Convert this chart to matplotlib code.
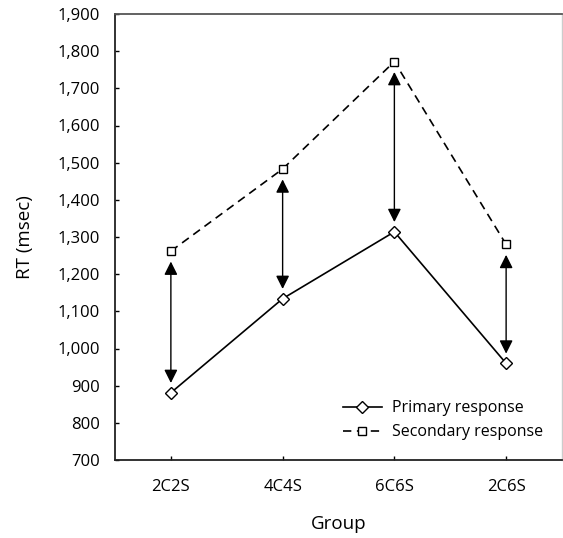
import matplotlib
matplotlib.use("Agg")
import matplotlib.pyplot as plt
from matplotlib.ticker import FuncFormatter

groups = ["2C2S", "4C4S", "6C6S", "2C6S"]
primary = [881, 1134, 1314, 960]
secondary = [1262, 1483, 1772, 1280]
yticks = list(range(700, 2000, 100))

plt.rcParams['font.family'] = ['Open Sans', 'DejaVu Sans']
plt.rcParams['lines.scale_dashes'] = False

fig = plt.figure(figsize=(5.63, 5.38), dpi=100)
ax = fig.add_axes([115/563, 1 - 460/538, (562 - 115)/563, (460 - 14)/538])

x = list(range(len(groups)))
ax.plot(x, primary, color='black', lw=1.2, marker='D', ms=6.5,
        mfc='white', mec='black', mew=1.0, label='Primary response', zorder=4)
ax.plot(x, secondary, color='black', lw=1.2, ls=(0, (6, 4)), marker='s', ms=5.5,
        mfc='white', mec='black', mew=1.0, label='Secondary response', zorder=4)

for xi, p, s in zip(x, primary, secondary):
    ax.annotate('', xy=(xi, p), xytext=(xi, s),
                arrowprops=dict(arrowstyle='<|-|>,head_length=0.8,head_width=0.4',
                                color='black', lw=1.0, shrinkA=7.5, shrinkB=7,
                                mutation_scale=10), zorder=3)

ax.set_xlim(-0.5, 3.5)
ax.set_ylim(700, 1900)
ax.set_xticks(x)
ax.set_xticklabels(groups)
ax.set_yticks(yticks)
ax.yaxis.set_major_formatter(FuncFormatter(lambda v, p: f"{int(v):,}"))
ax.tick_params(axis='both', direction='in', length=3, width=1, labelsize=12, colors='black')
ax.tick_params(axis='y', pad=11)
ax.tick_params(axis='x', pad=14)

for side in ['left', 'bottom']:
    ax.spines[side].set_linewidth(1.3)
    ax.spines[side].set_color('#222222')
ax.spines['top'].set_color('#555555')
ax.spines['top'].set_linewidth(1.3)
ax.spines['right'].set_color('#cccccc')
ax.spines['right'].set_linewidth(1.0)

ax.set_xlabel('Group', fontsize=13.5, labelpad=14)
ax.set_ylabel('RT (msec)', fontsize=13.5, labelpad=17)

leg = ax.legend(loc='lower right', bbox_to_anchor=(0.99, 0.012), frameon=False,
                fontsize=11.5, handlelength=2.5, handletextpad=0.6, labelspacing=0.5,
                markerscale=1.0)

fig.savefig('out.png', dpi=100)
